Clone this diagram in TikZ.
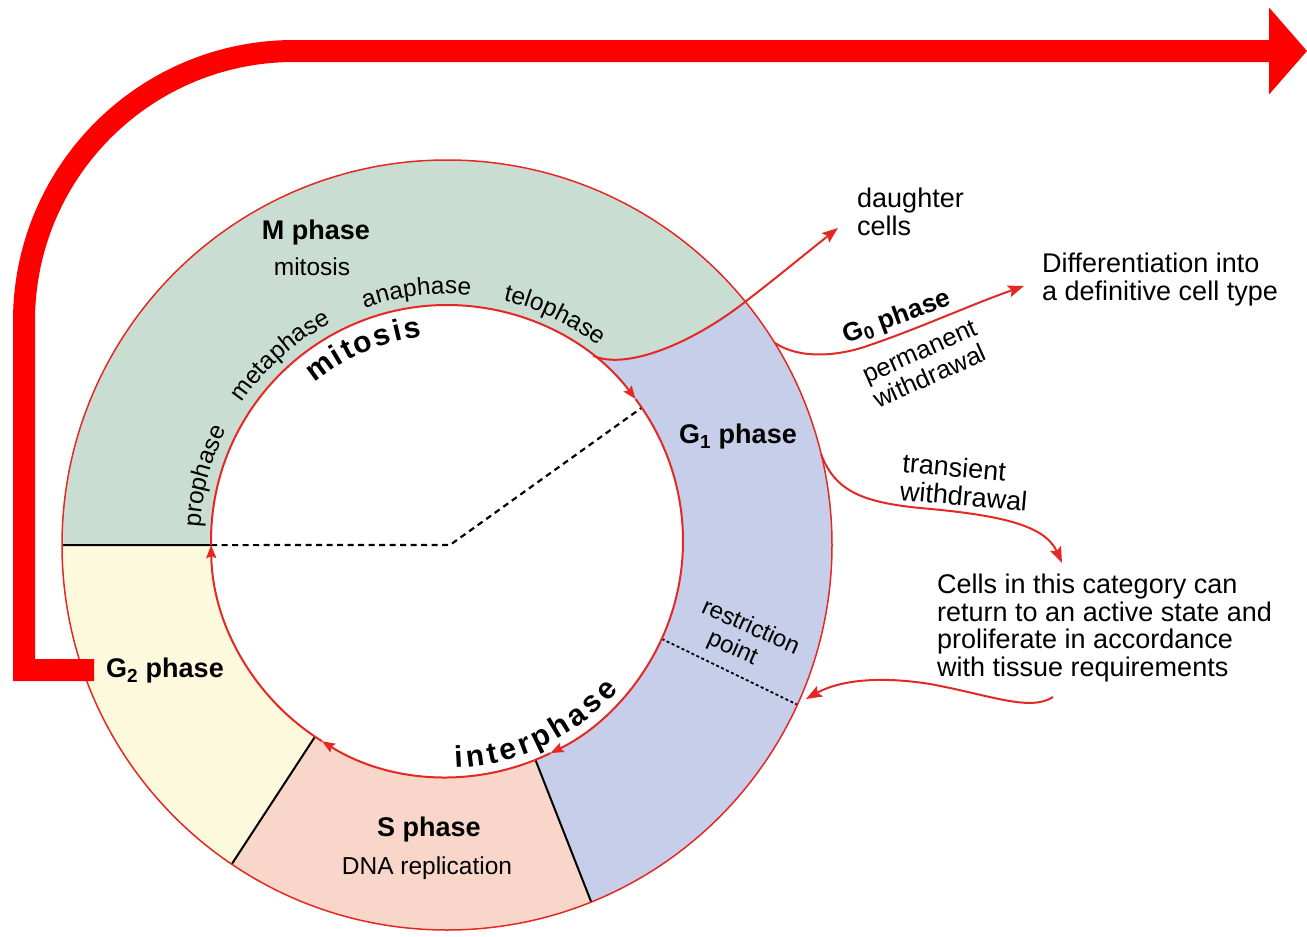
\documentclass[tikz,border=0pt]{standalone}
\usepackage{fontspec}
\setmainfont{Liberation Sans}
\usetikzlibrary{arrows.meta,decorations.text,calc}
\definecolor{mgreen}{RGB}{201,221,210}
\definecolor{gblue}{RGB}{198,206,233}
\definecolor{spink}{RGB}{249,214,202}
\definecolor{gyellow}{RGB}{253,249,221}
\definecolor{lred}{RGB}{228,40,36}
\definecolor{bigred}{RGB}{255,0,0}
\begin{document}
\begin{tikzpicture}[x=1pt,y=1pt,
  ringline/.style={draw=lred, line width=1.5pt},
  sepline/.style={draw=black, line width=2pt},
  cyc/.style={draw=lred, line width=2pt, -{Stealth[length=13pt,width=10pt,inset=2pt]}},
  flow/.style={draw=lred, line width=2pt, -{Stealth[length=16pt,width=12pt,inset=3pt]}},
  lbl/.style={font=\fontsize{24.5}{27}\selectfont, inner sep=0pt},
  blbl/.style={font=\fontsize{27}{29}\selectfont\bfseries, inner sep=0pt},
  txt/.style={font=\fontsize{27}{28}\selectfont, align=left, inner sep=0pt},
  bigarrow/.style={draw=bigred, line width=22pt, line join=miter, -{Triangle[length=38pt,width=87pt,line width=0pt]}}
]
\useasboundingbox (0,0) rectangle (1307,-937);
\def\Ri{236}
\def\Ro{385}
\def\Rb{247}
\coordinate (Co) at (447,-545);
\coordinate (Ci) at (447,-541);
% outer points
\coordinate (O180) at ($(Co)+(180:\Ro)$);
\coordinate (Om68) at ($(Co)+(-68:\Ro)$);
\coordinate (Om124) at ($(Co)+(-124:\Ro)$);
\coordinate (Om24) at ($(Co)+(-24.5:\Ro)$);
\coordinate (P1) at ($(Co)+(39.2:\Ro)$);
\coordinate (G0s) at ($(Co)+(31.7:\Ro)$);
\coordinate (T0) at ($(Co)+(13.6:\Ro)$);
% inner points
\coordinate (I181) at ($(Ci)+(181:\Ri)$);
\coordinate (P0) at ($(Ci)+(51.7:\Ri)$);
\coordinate (I37) at ($(Ci)+(37:\Ri)$);
\coordinate (Im64) at ($(Ci)+(-64:\Ri)$);
\coordinate (Im68) at ($(Ci)+(-68:\Ri)$);
\coordinate (Im122) at ($(Ci)+(-122:\Ri)$);
\coordinate (Im124) at ($(Ci)+(-124:\Ri)$);
\coordinate (Im24) at ($(Ci)+(-24.5:\Ri)$);
\coordinate (I34) at ($(Ci)+(34.4:\Ri)$);
\coordinate (Mid) at (450,-545);
% free ends
\coordinate (dtip) at (838,-228);
\coordinate (g0tip) at (1024,-286);
\coordinate (ttip) at (1062,-563);
\coordinate (rstart) at (1053,-697);
\coordinate (rtip) at (806,-699);
\coordinate (bigstart) at (94,-670);
\coordinate (bigend) at (1307,-51);

% ring fills
\fill[mgreen] (O180) arc[start angle=180, end angle=39.2, radius=\Ro]
  .. controls (690,-345) and (625,-370) .. (P0)
  arc[start angle=51.7, end angle=181, radius=\Ri] -- cycle;
\fill[gblue] (P0) .. controls (625,-370) and (690,-345) .. (P1)
  arc[start angle=39.2, end angle=-68, radius=\Ro] -- (Im68)
  arc[start angle=-68, end angle=51.7, radius=\Ri] -- cycle;
\fill[spink] (Om68) arc[start angle=-68, end angle=-124, radius=\Ro] -- (Im124)
  arc[start angle=-124, end angle=-68, radius=\Ri] -- cycle;
\fill[gyellow] (Om124) arc[start angle=-124, end angle=-180, radius=\Ro] -- (I181)
  arc[start angle=-179, end angle=-124, radius=\Ri] -- cycle;

% separators
\draw[sepline] (O180) -- (I181);
\draw[sepline] (Om68) -- (Im68);
\draw[sepline] (Om124) -- (Im124);
\draw[black, line width=1.8pt, dash pattern=on 3pt off 2.5pt] (Im24) -- (Om24);
\draw[black, line width=2.2pt, dash pattern=on 6pt off 4.5pt] (I181) -- (Mid) -- (I34);

% circles
\draw[ringline] (Co) circle[radius=\Ro];
\draw[cyc] (I181) arc[start angle=181, end angle=37, radius=\Ri];
\draw[cyc] (I37) arc[start angle=37, end angle=-64, radius=\Ri];
\draw[cyc] (Im64) arc[start angle=-64, end angle=-122, radius=\Ri];
\draw[cyc] (Im122) arc[start angle=-122, end angle=-179, radius=\Ri];

% outgoing connectors
\draw[flow] (P0) .. controls (625,-370) and (690,-345) .. (P1)
  .. controls (780,-275) and (810,-250) .. (dtip);
\draw[flow] (G0s) .. controls (800,-360) and (840,-356) .. (870,-345)
  .. controls (920,-328) and (970,-305) .. (g0tip);
\draw[flow] (T0) .. controls (835,-490) and (860,-502) .. (920,-508)
  .. controls (1000,-515) and (1045,-525) .. (ttip);
\draw[flow] (rstart) .. controls (1030,-712) and (990,-695) .. (930,-684)
  .. controls (880,-676) and (840,-680) .. (rtip);

% big red arrow
\draw[bigarrow] (bigstart) -- (24,-670) -- (24,-321)
  arc[start angle=180, end angle=90, radius=270] -- (bigend);

% curved labels
\path[decorate, decoration={text along path, text align=center,
  text={|\fontsize{24.5}{25}\selectfont|prophase}}]
  ($(Ci)+(195:\Rb)$) arc[start angle=195, end angle=135, radius=\Rb];
\path[decorate, decoration={text along path, text align=center,
  text={|\fontsize{24.5}{25}\selectfont|metaphase}}]
  ($(Ci)+(162:\Rb)$) arc[start angle=162, end angle=102, radius=\Rb];
\path[decorate, decoration={text along path, text align=center,
  text={|\fontsize{24.5}{25}\selectfont|anaphase}}]
  ($(Ci)+(127:\Rb)$) arc[start angle=127, end angle=67, radius=\Rb];
\path[decorate, decoration={text along path, text align=center,
  text={|\fontsize{24.5}{25}\selectfont|telophase}}]
  ($(Ci)+(94.5:\Rb)$) arc[start angle=94.5, end angle=34.5, radius=\Rb];
\path[decorate, decoration={text along path, text align={fit to path},
  text={|\fontsize{30}{30}\selectfont\bfseries|mitosis}}]
  ($(Ci)+(130:206)$) arc[start angle=130, end angle=97, radius=206];
\path[decorate, decoration={text along path, text align={fit to path},
  text={|\fontsize{30}{30}\selectfont\bfseries|interphase}}]
  ($(Ci)+(-88:227)$) arc[start angle=-88, end angle=-41, radius=227];

% ring labels
\node[blbl] (mph) at (316,-233) {M phase};
\node[lbl] (mmit) at (312,-267) {mitosis};
\node[blbl] (g1) at (738,-437) {G\textsubscript{1} phase};
\node[blbl] (g2) at (165,-671) {G\textsubscript{2} phase};
\node[blbl] (sph) at (429,-830) {S phase};
\node[lbl] (dna) at (427,-868) {DNA replication};
\node[lbl, align=left, rotate=-24, font=\fontsize{24}{26.5}\selectfont] (restr) at (745,-640) {restriction\\\hspace*{18pt}point};

% outside labels
\node[txt, anchor=west] (daughter) at (857,-212) {daughter\\cells};
\node[txt, anchor=west] (diff) at (1042,-280) {Differentiation into\\a definitive cell type};
\node[blbl, font=\fontsize{26}{28}\selectfont\bfseries, rotate=20] (g0) at (897,-318) {G\textsubscript{0} phase};
\node[txt, font=\fontsize{25.5}{27}\selectfont, rotate=24] (perm) at (925,-364) {permanent\\withdrawal};
\node[txt, rotate=-5] (trans) at (965,-482) {transient\\withdrawal};
\node[txt, anchor=west, font=\fontsize{27}{27.5}\selectfont] (cells) at (937,-628) {Cells in this category can\\return to an active state and\\proliferate in accordance\\with tissue requirements};
\end{tikzpicture}
\end{document}
